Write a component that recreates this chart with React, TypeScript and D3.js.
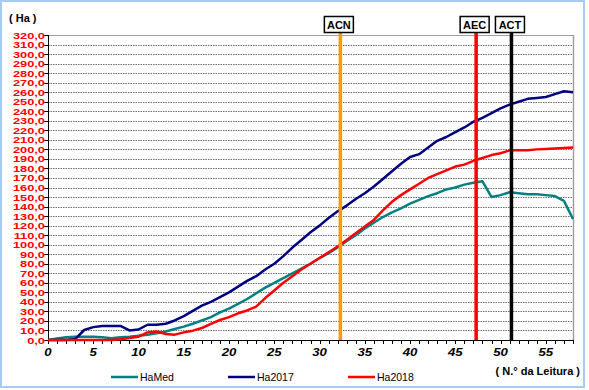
import React from "react";
import * as d3 from "d3";

const readings = d3.range(0, 59);
const haMed = [0, 1.5, 3, 3.5, 3.5, 3.5, 3, 1.8, 2.8, 3.5, 4.5, 5.6, 7, 9, 11.5, 14, 17, 20.5, 24, 29, 33, 38, 43, 49, 55, 60, 65, 70, 75, 80, 86, 91, 97, 104, 110, 117, 123, 129, 134, 138, 143, 147, 151, 154, 158, 160, 163, 165, 166.5, 150, 152, 155, 154, 153, 153, 152, 151, 146, 127];
const ha2017 = [0, 0, 0, 1, 10.5, 13.5, 14.8, 14.8, 14.7, 10, 11, 16, 16, 17, 20.5, 25, 30.5, 36, 40, 45, 50, 56, 62, 67, 74, 80, 88, 97, 105, 113, 120, 128, 135, 141, 148, 154, 161, 169, 177, 185, 192, 195, 202, 209, 213, 218, 223, 229, 233, 238, 243, 247, 250, 253, 254, 255, 258, 261, 260];
const ha2018 = [0, 0, 0, 0, 0, 0, 0, 0, 0.7, 2, 3.5, 8, 9, 6.3, 5.6, 8, 9.8, 12.6, 17, 21, 24, 28, 31, 35, 44, 52, 60, 67, 74, 80, 86, 92, 98, 105, 112, 119, 126, 136, 145, 152, 158, 164, 170, 174, 178, 182, 184, 188, 191, 194, 196, 199, 199, 199, 200, 200.5, 201, 201.5, 202];

const seriesNames = ["HaMed", "Ha2017", "Ha2018"];
const seriesColors = ["#008080", "#000080", "#FF0000"];
const seriesValues = [haMed, ha2017, ha2018];

const markerNames = ["ACN", "AEC", "ACT"];
const markerPositions = [32.3, 47.3, 51.2];
const markerColors = ["#FF9900", "#FF0000", "#000000"];

const yTicks = d3.range(0, 321, 10);
const xLabels = d3.range(0, 56, 5);
const xMinorTicks = d3.range(0, 59, 1);

const W = 589;
const H = 390;
const left = 48;
const right = 573;
const top = 35;
const bottom = 340;

export default function App() {
  const x = d3.scaleLinear().domain([0, 58]).range([left, right]);
  const y = d3.scaleLinear().domain([0, 320]).range([bottom, top]);
  const line = d3
    .line<number>()
    .x((_, i) => x(readings[i]))
    .y((d) => y(d));

  const font = "'Liberation Sans', Arial, sans-serif";

  return (
    <svg
      width={W}
      height={H}
      style={{ position: "absolute", left: 0, top: 0, background: "#fff" }}
      fontFamily={font}
    >
      <rect x={0} y={0} width={W} height={H} fill="#fff" />
      <rect x={1} y={1} width={583} height={386} fill="none" stroke="#A8CCF0" strokeWidth={2} />

      {/* gridlines */}
      {yTicks.slice(1, -1).map((t) => (
        <line
          key={"g" + t}
          x1={left}
          x2={right}
          y1={Math.round(y(t)) + 0.5}
          y2={Math.round(y(t)) + 0.5}
          stroke="#6e6e6e"
          strokeWidth={1.2}
          strokeDasharray="1.5,1"
        />
      ))}
      {/* plot border top/right */}
      <line x1={left} x2={right} y1={top + 0.5} y2={top + 0.5} stroke="#a0a0a0" strokeWidth={1.2} />
      <line x1={right + 0.5} x2={right + 0.5} y1={top} y2={bottom} stroke="#a0a0a0" strokeWidth={1.5} />

      {/* y axis */}
      <line x1={left + 0.5} x2={left + 0.5} y1={top} y2={bottom} stroke="#000" strokeWidth={1} />
      {yTicks.map((t) => (
        <g key={"y" + t}>
          <line x1={left - 4} x2={left} y1={Math.round(y(t)) + 0.5} y2={Math.round(y(t)) + 0.5} stroke="#000" />
          <text
            transform={`translate(${left - 3},${y(t) + 3.5}) scale(1.35,1)`}
            textAnchor="end"
            fontSize={9.5}
            fontWeight="bold"
            fill="#FF0000"
          >
            {d3.format(".1f")(t).replace(".", ",")}
          </text>
        </g>
      ))}

      {/* x axis */}
      <line x1={left} x2={right} y1={bottom + 0.5} y2={bottom + 0.5} stroke="#000" />
      {xMinorTicks.map((t) => (
        <line key={"xt" + t} x1={Math.round(x(t)) + 0.5} x2={Math.round(x(t)) + 0.5} y1={bottom} y2={bottom + 4} stroke="#000" />
      ))}
      {xLabels.map((t) => (
        <text
          key={"xl" + t}
          transform={`translate(${x(t)},${bottom + 16}) scale(1.2,1)`}
          textAnchor="middle"
          fontSize={11}
          fontWeight="bold"
          fontStyle="italic"
        >
          {t}
        </text>
      ))}

      {/* series */}
      {seriesValues.map((vals, i) => (
        <path key={seriesNames[i]} d={line(vals) || ""} fill="none" stroke={seriesColors[i]} strokeWidth={2.5} strokeLinejoin="round" />
      ))}

      {/* markers */}
      {markerNames.map((m, i) => {
        const cx = x(markerPositions[i]);
        return (
          <g key={m}>
            <line x1={cx} x2={cx} y1={33} y2={bottom} stroke={markerColors[i]} strokeWidth={3.5} />
            <rect x={cx - 16} y={16.5} width={29} height={16} fill="#fff" stroke="#000" strokeWidth={1.5} />
            <text x={cx - 1.5} y={29} textAnchor="middle" fontSize={11} fontWeight="bold">
              {m}
            </text>
          </g>
        );
      })}

      {/* axis titles */}
      <text x={9} y={22} fontSize={11} fontWeight="bold">( Ha )</text>
      <text x={580} y={375} textAnchor="end" fontSize={11} fontWeight="bold">( N.° da Leitura )</text>

      {/* legend */}
      {seriesNames.map((n, i) => {
        const lx = [111, 228, 348][i];
        return (
          <g key={"lg" + n}>
            <line x1={lx} x2={lx + 27} y1={377} y2={377} stroke={seriesColors[i]} strokeWidth={2.5} />
            <text x={lx + 29} y={381} fontSize={10.5}>{n}</text>
          </g>
        );
      })}
    </svg>
  );
}
